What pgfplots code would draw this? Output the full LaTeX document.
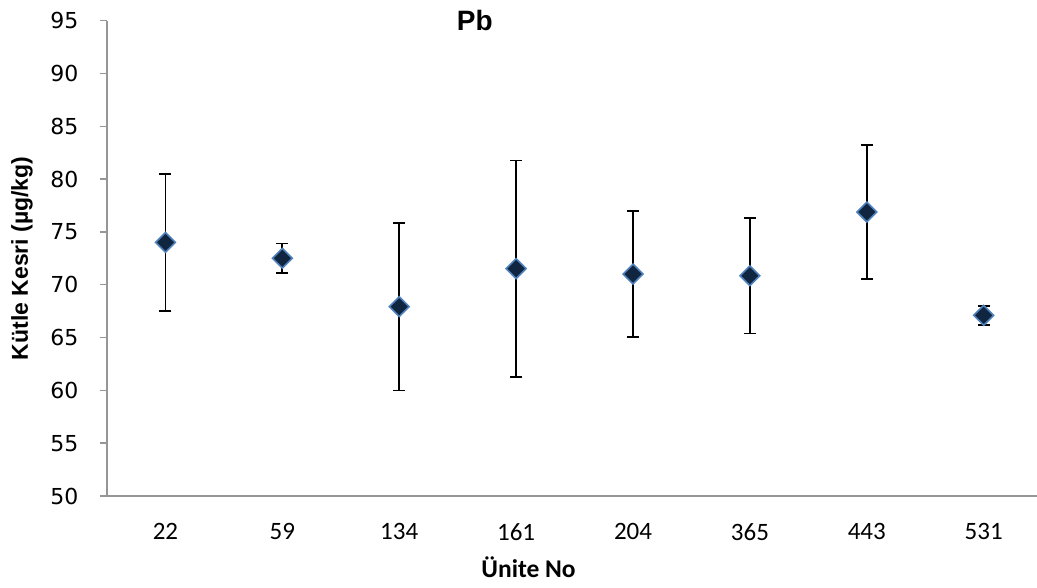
\documentclass[border=0pt]{standalone}
\usepackage{fontspec}
\setmainfont{Liberation Sans}
\newfontfamily\calibrifont{Carlito}
\newfontfamily\verdanafont{DejaVu Sans}
\usepackage{pgfplots}
\pgfplotsset{compat=1.18}
\usepackage{pgfplotstable}

\definecolor{axisgray}{RGB}{150,150,150}
\definecolor{markfill}{RGB}{16,37,64}
\definecolor{markedge}{RGB}{79,129,189}

% Pb mass fraction per unit: mean and half-width of the uncertainty bar
\pgfplotstableread{
x unit y     err
0 22   74.02 6.47
1 59   72.51 1.40
2 134  67.93 7.94
3 161  71.53 10.24
4 204  71.02 6.00
5 365  70.86 5.48
6 443  76.89 6.35
7 531  67.11 0.90
}\pbdata

\begin{document}
\begin{tikzpicture}
\begin{axis}[
  scale only axis,
  width=930pt, height=475.2pt,
  xmin=-0.5, xmax=7.456,
  ymin=50, ymax=95,
  clip=false,
  axis x line=bottom, axis y line=left,
  axis line style={-, draw=axisgray, line width=1.4pt},
  xtick={0,...,7},
  xticklabels={22,59,134,161,204,365,443,531},
  x tick style={draw=none},
  ytick={50,55,...,95},
  tick align=outside,
  major tick length=7pt,
  y tick style={draw=axisgray, line width=1.4pt},
  /pgf/number format/assume math mode=true,
  yticklabel style={font=\verdanafont\fontsize{22}{24}\selectfont, xshift=-18pt},
  xticklabel style={font=\calibrifont\fontsize{25}{28}\selectfont, yshift=-17pt},
  xlabel={Ünite No},
  ylabel={Kütle Kesri (µg/kg)},
  every axis x label/.style={at={(axis description cs:0.4533,-0.1719)}, anchor=base,
    font=\calibrifont\bfseries\fontsize{25.5}{28}\selectfont},
  every axis y label/.style={at={(axis description cs:-0.0914,0.5)}, anchor=center, rotate=90,
    font=\bfseries\fontsize{23}{26}\selectfont},
]
\addplot[only marks, mark=square*, mark size=7pt,
  mark options={rotate=45, fill=markfill, draw=markedge, line width=1.6pt},
  error bars/.cd, y dir=both, y explicit,
  error bar style={black, line width=1.8pt},
  error mark options={rotate=90, mark size=6pt, line width=1.8pt, draw=black}]
  table[x=x, y=y, y error=err]{\pbdata};
\node[anchor=base, font=\bfseries\fontsize{28}{32}\selectfont] at (rel axis cs:0.3954,0.9792) {Pb};
\end{axis}
\pgfresetboundingbox
\path[use as bounding box] (-107pt,-92pt) rectangle (930pt,496pt);
\end{tikzpicture}
\end{document}
